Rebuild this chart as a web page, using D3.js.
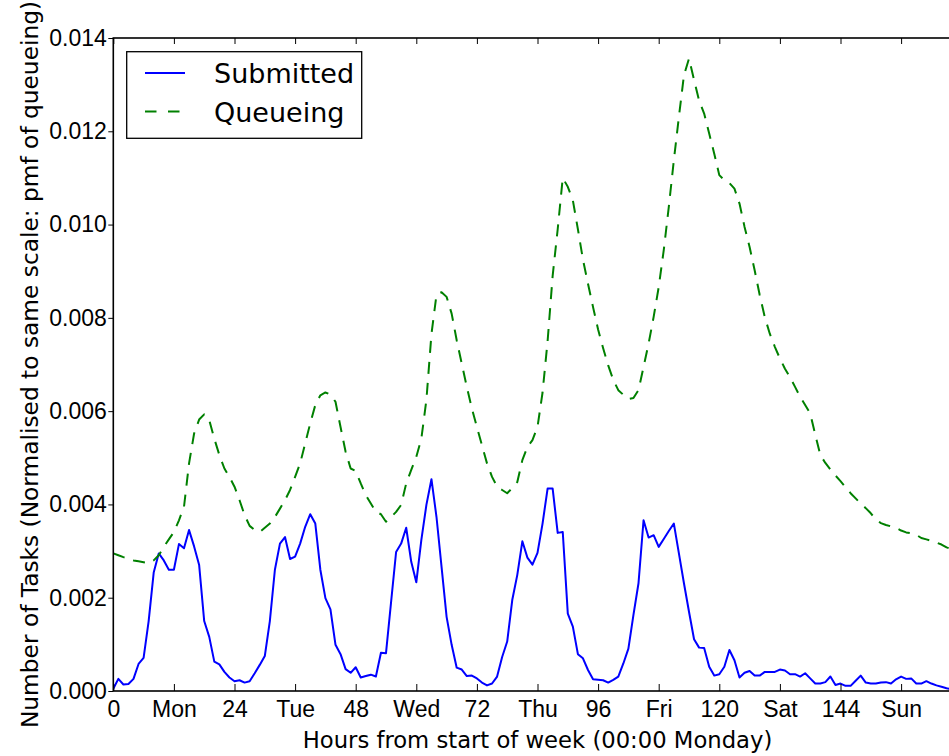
<!DOCTYPE html>
<html>
<head>
<meta charset="utf-8">
<script src="https://cdn.jsdelivr.net/npm/d3@7"></script>
<style>
  body { margin: 0; background: #fff; }
  svg { display: block; font-family: "DejaVu Sans", sans-serif; }
  .line { fill: none; stroke-linejoin: round; }
</style>
</head>
<body>
<svg id="chart" width="949" height="756"></svg>
<script>
// Hourly values over one week (hour 0 = 00:00 Monday)
const submitted = [
  0.00005,0.00026,0.00014,0.00015,0.00026,0.00058,0.00071,0.0015,0.00254,0.00295,
  0.0028,0.0026,0.0026,0.00315,0.00306,0.00345,0.0031,0.0027,0.0015,0.00116,
  0.00063,0.00057,0.00041,0.00029,0.00021,0.00023,0.00018,0.00021,0.00038,0.00056,
  0.00075,0.0015,0.0026,0.00316,0.0033,0.00283,0.00288,0.00316,0.00352,0.00379,
  0.00359,0.0026,0.00199,0.00175,0.00099,0.00079,0.00047,0.00039,0.00051,0.00029,
  0.00032,0.00035,0.00031,0.00082,0.00081,0.0019,0.00298,0.00316,0.0035,0.00277,
  0.00233,0.00324,0.00399,0.00454,0.00373,0.00266,0.00159,0.00099,0.0005,0.00046,
  0.00032,0.00033,0.00027,0.00018,0.00012,0.00016,0.00031,0.00073,0.00106,0.00195,
  0.00249,0.00321,0.00286,0.00271,0.00296,0.00359,0.00434,0.00434,0.00339,0.00341,
  0.00166,0.00138,0.00079,0.0007,0.00045,0.00025,0.00024,0.00023,0.00018,0.00024,
  0.00031,0.00059,0.00091,0.00163,0.00231,0.00366,0.00329,0.00334,0.00309,0.00326,
  0.00343,0.00359,0.00295,0.00231,0.0017,0.00111,0.00093,0.00092,0.00052,0.00033,
  0.00036,0.00052,0.00088,0.00066,0.00029,0.00039,0.00043,0.00033,0.00033,0.00041,
  0.00041,0.00041,0.00046,0.00044,0.00036,0.00036,0.00031,0.00038,0.00027,0.00016,
  0.00016,0.00019,0.00031,0.00013,0.00016,0.00011,0.00011,0.00022,0.00033,0.00018,
  0.00016,0.00016,0.00018,0.00019,0.00016,0.00025,0.00031,0.00026,0.00027,0.00016,
  0.00016,0.00021,0.00016,0.00012,0.00009,0.00006,0.00004,0.00003
];

const queueing = [
  0.00295,0.00291,0.00287,0.00284,0.0028,0.00278,0.00276,0.00274,0.0028,0.00291,
  0.00309,0.00325,0.00341,0.00366,0.00395,0.00488,0.00552,0.00582,0.00593,0.00581,
  0.00541,0.00506,0.00477,0.00459,0.00438,0.00409,0.00377,0.00354,0.00345,0.00341,
  0.0035,0.00359,0.00373,0.00391,0.00409,0.00431,0.00459,0.00488,0.00531,0.00574,
  0.00613,0.00634,0.0064,0.00636,0.0062,0.00566,0.00513,0.00477,0.00472,0.00445,
  0.0042,0.00402,0.00384,0.00379,0.00363,0.00373,0.00384,0.00399,0.00445,0.00474,
  0.00502,0.00541,0.00624,0.00765,0.0085,0.00855,0.00845,0.00809,0.00752,0.00702,
  0.00652,0.00606,0.00566,0.00527,0.00488,0.00459,0.00438,0.00431,0.00424,0.00435,
  0.00448,0.00495,0.00523,0.00538,0.00566,0.0064,0.0075,0.0089,0.0099,0.011,
  0.01081,0.01052,0.0099,0.00925,0.00873,0.00823,0.00775,0.00735,0.00698,0.00667,
  0.00645,0.00635,0.00626,0.00628,0.00645,0.00695,0.00745,0.00802,0.00866,0.00945,
  0.01038,0.01138,0.01231,0.0132,0.01356,0.0131,0.01266,0.01238,0.01195,0.01152,
  0.01106,0.01095,0.01089,0.01077,0.01045,0.00995,0.00952,0.00902,0.00849,0.00802,
  0.00766,0.00738,0.00713,0.00691,0.00673,0.00652,0.00631,0.00613,0.00595,0.0055,
  0.00506,0.00489,0.00475,0.00462,0.0045,0.00437,0.00424,0.00413,0.00402,0.00392,
  0.00381,0.00368,0.0036,0.00356,0.00353,0.0035,0.00344,0.0034,0.00338,0.00335,
  0.00328,0.00325,0.00322,0.00318,0.00314,0.00308,0.00304,0.003
];

const xTickValues = [0, 12, 24, 36, 48, 60, 72, 84, 96, 108, 120, 132, 144, 156];
const xTickLabels = ["0", "Mon", "24", "Tue", "48", "Wed", "72", "Thu", "96", "Fri", "120", "Sat", "144", "Sun"];
const yTickValues = [0, 0.002, 0.004, 0.006, 0.008, 0.010, 0.012, 0.014];

const series = [
  { name: "Submitted", values: submitted, color: "#0000ff", dash: null },
  { name: "Queueing", values: queueing, color: "#008000", dash: "12,9" }
];

// plot box (right edge runs past the cropped picture)
const plotL = 113.3, plotT = 38, plotB = 691, plotR = 961.7;

const x = d3.scaleLinear().domain([0, 168]).range([plotL, plotR]);
const y = d3.scaleLinear().domain([0, 0.014]).range([plotB, plotT]);

const svg = d3.select("#chart");

svg.append("defs").append("clipPath").attr("id", "plot")
  .append("rect").attr("x", plotL).attr("y", plotT)
  .attr("width", plotR - plotL).attr("height", plotB - plotT);

const line = d3.line().x((d, i) => x(i)).y(d => y(d));

const lines = svg.append("g").attr("clip-path", "url(#plot)");
for (const s of series) {
  lines.append("path")
    .attr("class", "line")
    .attr("d", line(s.values))
    .attr("stroke", s.color)
    .attr("stroke-width", 2)
    .attr("stroke-dasharray", s.dash);
}

// bottom axis, ticks pointing inward
const xAxis = svg.append("g")
  .attr("transform", `translate(0,${plotB})`)
  .call(d3.axisBottom(x).tickValues(xTickValues)
    .tickFormat((d, i) => xTickLabels[i])
    .tickSizeInner(-7).tickSizeOuter(0));
xAxis.selectAll("text").attr("y", 26).attr("dy", null)
  .attr("font-size", 23).attr("fill", "#000");

// top axis, no labels
svg.append("g")
  .attr("transform", `translate(0,${plotT})`)
  .call(d3.axisTop(x).tickValues(xTickValues).tickFormat("")
    .tickSizeInner(-6).tickSizeOuter(0));

// left axis
const yAxis = svg.append("g")
  .attr("transform", `translate(${plotL},0)`)
  .call(d3.axisLeft(y).tickValues(yTickValues)
    .tickFormat(d3.format(".3f"))
    .tickSize(5).tickPadding(1.5));
yAxis.selectAll("text").attr("font-size", 23).attr("fill", "#000");

svg.selectAll(".domain").remove();
svg.selectAll(".tick line").attr("stroke", "#000").attr("stroke-width", 1);

// frame
svg.append("rect")
  .attr("x", plotL).attr("y", plotT)
  .attr("width", plotR - plotL).attr("height", plotB - plotT)
  .attr("fill", "none").attr("stroke", "#000").attr("stroke-width", 1.6);

// axis titles
svg.append("text")
  .attr("x", (plotL + plotR) / 2).attr("y", 748)
  .attr("text-anchor", "middle").attr("font-size", 22.7)
  .text("Hours from start of week (00:00 Monday)");

svg.append("text")
  .attr("transform", `translate(38,${(plotT + plotB) / 2}) rotate(-90)`)
  .attr("text-anchor", "middle").attr("font-size", 23.3)
  .text("Number of Tasks (Normalised to same scale: pmf of queueing)");

// legend
const legend = svg.append("g");
legend.append("rect")
  .attr("x", 126.7).attr("y", 51.7).attr("width", 235).attr("height", 86.6)
  .attr("fill", "#fff").attr("stroke", "#000").attr("stroke-width", 1.3);
series.forEach((s, i) => {
  const cy = 73 + i * 38.5;
  legend.append("line")
    .attr("x1", 145).attr("x2", 185).attr("y1", cy).attr("y2", cy)
    .attr("stroke", s.color).attr("stroke-width", 2)
    .attr("stroke-dasharray", s.dash ? "11.5,11.5" : null);
  legend.append("text")
    .attr("x", 214).attr("y", cy + 10)
    .attr("font-size", 27)
    .text(s.name);
});
</script>
</body>
</html>
